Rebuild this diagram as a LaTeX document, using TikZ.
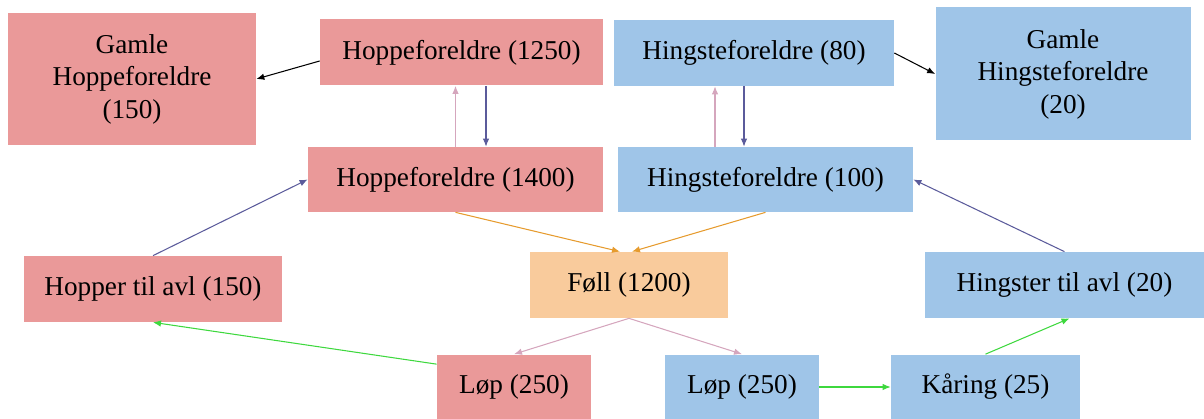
\documentclass[tikz,border=0pt]{standalone}
\usepackage{fontspec}
\setmainfont{Liberation Serif}
\usepackage{tikz}
\usetikzlibrary{arrows.meta, positioning}
\usepackage{xcolor}

\definecolor{hoppe}{HTML}{EA9999}
\definecolor{hingst}{HTML}{9FC5E8}
\definecolor{follc}{HTML}{F9CB9C}
\definecolor{opp}{HTML}{D5A6BD}
\definecolor{ned}{HTML}{5B5B9B}
\definecolor{oransje}{HTML}{E69B2E}
\definecolor{gronn}{HTML}{3ED83E}

\begin{document}
\begin{tikzpicture}[
    box/.style={rectangle, inner sep=0pt, align=center, minimum height=1.32cm},
    mare/.style={box, fill=hoppe},
    stallion/.style={box, fill=hingst},
    arrow/.style={-{Latex[length=1.6mm, width=1.3mm]}, line width=0.6pt},
    every node/.append style={font=\fontsize{15.5}{18.5}\selectfont}
]
    \useasboundingbox (0,0) rectangle (24.08,-8.38);

    % Parents
    \node[mare, minimum width=4.96cm, minimum height=2.64cm] at (2.64,-1.58) (gh) {Gamle\\Hoppeforeldre\\(150)};
    \node[mare, minimum width=5.66cm] at (9.23,-1.05) (h1250) {Hoppeforeldre (1250)};
    \node[stallion, minimum width=5.6cm] at (15.08,-1.06) (s80) {Hingsteforeldre (80)};
    \node[stallion, minimum width=5.1cm, minimum height=2.66cm] at (21.26,-1.48) (ghs) {Gamle\\Hingsteforeldre\\(20)};
    \node[mare, minimum width=5.9cm, minimum height=1.3cm] at (9.11,-3.59) (h1400) {Hoppeforeldre (1400)};
    \node[stallion, minimum width=5.9cm, minimum height=1.3cm] at (15.31,-3.59) (s100) {Hingsteforeldre (100)};

    % Offspring
    \node[mare, minimum width=5.16cm] at (3.06,-5.78) (hoppertil) {Hopper til avl (150)};
    \node[box, fill=follc, minimum width=3.96cm] at (12.58,-5.70) (foll) {Føll (1200)};
    \node[stallion, minimum width=5.58cm] at (21.29,-5.70) (hingstertil) {Hingster til avl (20)};
    \node[mare, minimum width=3.08cm, minimum height=1.3cm] at (10.28,-7.74) (lop1) {Løp (250)};
    \node[stallion, minimum width=3.08cm, minimum height=1.3cm] at (14.84,-7.74) (lop2) {Løp (250)};
    \node[stallion, minimum width=3.78cm, minimum height=1.3cm] at (19.71,-7.74) (kaaring) {Kåring (25)};

    % Connections
    \draw[arrow, black] ([yshift=-0.17cm]h1250.west) -- (gh.east);
    \draw[arrow, black] (s80.east) -- (ghs.west);
    \draw[arrow, opp] (h1400.north) -- (h1400.north |- h1250.south);
    \draw[arrow, ned] ([xshift=0.49cm]h1250.south) -- ([xshift=0.49cm]h1250.south |- h1400.north);
    \draw[arrow, opp] ([xshift=-0.78cm]s80.south |- s100.north) -- ([xshift=-0.78cm]s80.south);
    \draw[arrow, ned] ([xshift=-0.2cm]s80.south) -- ([xshift=-0.2cm]s80.south |- s100.north);
    \draw[arrow, ned] (hoppertil.north) -- (h1400.west);
    \draw[arrow, ned] (hingstertil.north) -- (s100.east);
    \draw[arrow, oransje] (h1400.south) -- ([xshift=-0.18cm]foll.north);
    \draw[arrow, oransje] (s100.south) -- ([xshift=0.06cm]foll.north);
    \draw[arrow, opp] (foll.south) -- (lop1.north);
    \draw[arrow, opp] (foll.south) -- (lop2.north);
    \draw[arrow, gronn] ([yshift=-0.2cm]lop1.north west) -- (hoppertil.south);
    \draw[arrow, gronn] (lop2.east) -- (kaaring.west);
    \draw[arrow, gronn] (kaaring.north) -- ([xshift=0.1cm]hingstertil.south);

\end{tikzpicture}
\end{document}
